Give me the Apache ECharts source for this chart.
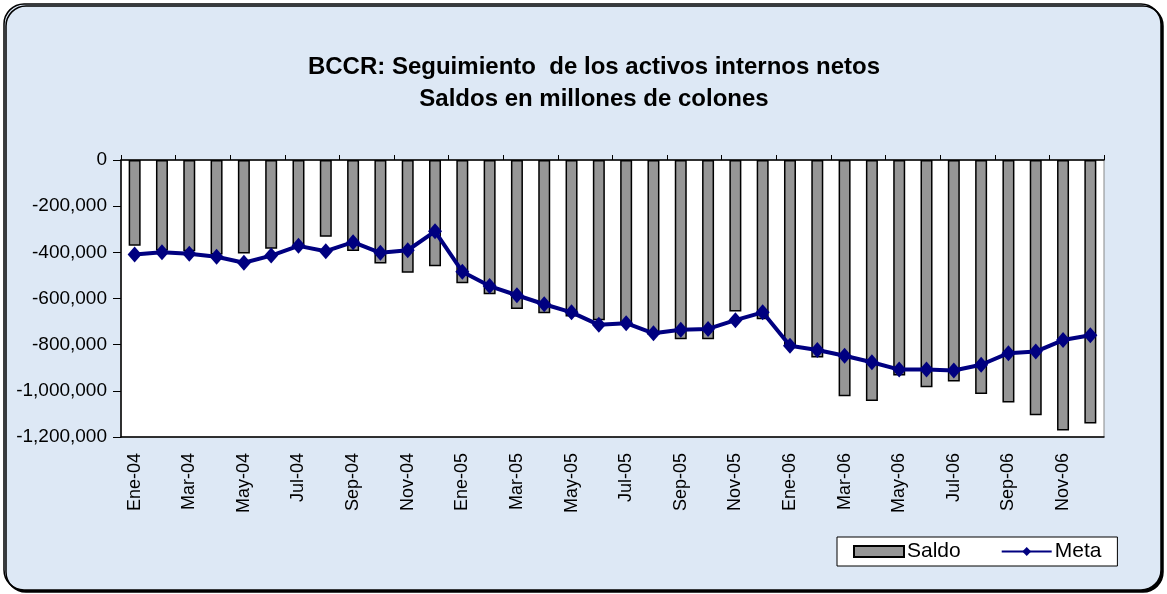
<!DOCTYPE html>
<html>
<head>
<meta charset="utf-8">
<title>BCCR: activos internos netos</title>
<script src="https://cdn.jsdelivr.net/npm/echarts@6/dist/echarts.min.js"></script>
<style>
    html, body { margin: 0; padding: 0; width: 100%; height: 100%; background: #fff; }
    #chart { width: 1167px; height: 594px; }
</style>
</head>
<body>
<div id="chart"></div>
<script>
// meses
var meses = ['Ene-04','Feb-04','Mar-04','Abr-04','May-04','Jun-04','Jul-04','Ago-04','Sep-04','Oct-04','Nov-04','Dic-04',
             'Ene-05','Feb-05','Mar-05','Abr-05','May-05','Jun-05','Jul-05','Ago-05','Sep-05','Oct-05','Nov-05','Dic-05',
             'Ene-06','Feb-06','Mar-06','Abr-06','May-06','Jun-06','Jul-06','Ago-06','Sep-06','Oct-06','Nov-06','Dic-06'];
// saldo (barras)
var saldo = [-371000,-392000,-395000,-409000,-405000,-384000,-372000,-333000,-394000,-448000,-488000,-460000,
             -534000,-582000,-646000,-664000,-678000,-694000,-704000,-757000,-776000,-776000,-656000,-690000,
             -805000,-856000,-1024000,-1044000,-934000,-984000,-960000,-1014000,-1050000,-1106000,-1172000,-1142000];
// meta (linea)
var meta = [-409000,-400000,-406000,-419000,-445000,-414000,-372000,-395000,-356000,-402000,-391000,-309000,
            -484000,-546000,-586000,-625000,-660000,-714000,-707000,-751000,-735000,-732000,-694000,-660000,
            -805000,-823000,-848000,-876000,-908000,-908000,-912000,-887000,-837000,-830000,-780000,-759000];
var yMin = -1200000, yMax = 0, yStep = 200000;

var chart = echarts.init(document.getElementById('chart'));
var FONT = 'Liberation Sans, Arial, sans-serif';

var option = {
    animation: false,
    backgroundColor: '#fff',
    textStyle: { fontFamily: FONT, color: '#000' },
    graphic: [{
        type: 'rect',
        z: -10,
        shape: { x: 4, y: 4, width: 1157, height: 586, r: 20 },
        style: {
            fill: '#dde8f5', stroke: '#000', lineWidth: 1.5,
            shadowColor: '#000', shadowOffsetX: 2, shadowOffsetY: 2, shadowBlur: 0
        }
    }],
    title: {
        text: 'BCCR: Seguimiento  de los activos internos netos\nSaldos en millones de colones',
        left: 589,
        textAlign: 'center',
        top: 46,
        textStyle: { fontFamily: FONT, fontSize: 24, fontWeight: 'bold', lineHeight: 32, color: '#000' }
    },
    legend: {
        left: 837, top: 537,
        padding: [4, 16, 4, 16],
        backgroundColor: '#fff',
        borderColor: '#000', borderWidth: 1,
        itemWidth: 50, itemHeight: 11, itemGap: 40,
        textStyle: { fontFamily: FONT, fontSize: 21, color: '#000', padding: [0, 0, 0, -2] },
        data: [{ name: 'Saldo', icon: 'rect' }, { name: 'Meta' }]
    },
    grid: {
        left: 121, top: 160, width: 983, height: 277,
        show: true, backgroundColor: '#fff', borderColor: '#888', borderWidth: 1
    },
    xAxis: [{
        type: 'category',
        data: meses,
        position: 'bottom',
        axisLine: { onZero: false, lineStyle: { color: '#000', width: 1.5 } },
        axisTick: { show: false },
        axisLabel: { interval: 1, rotate: 90, margin: 16, fontSize: 18, color: '#000', fontFamily: FONT }
    }, {
        type: 'category',
        data: meses,
        position: 'top',
        axisLine: { onZero: false, lineStyle: { color: '#000', width: 1.5 } },
        axisTick: { show: true, length: 5, lineStyle: { color: '#000' } },
        axisLabel: { show: false }
    }],
    yAxis: {
        type: 'value',
        min: yMin, max: yMax, interval: yStep,
        axisLine: { show: true, lineStyle: { color: '#000', width: 1.5 } },
        axisTick: { show: true, length: 8, lineStyle: { color: '#000' } },
        splitLine: { show: false },
        axisLabel: {
            margin: 14, fontSize: 19, color: '#000', fontFamily: FONT,
            formatter: function (v) { return v.toLocaleString('en-US'); }
        }
    },
    series: [{
        name: 'Saldo',
        type: 'bar',
        xAxisIndex: 0,
        barWidth: 12,
        data: saldo,
        itemStyle: { color: '#969696', borderColor: '#000', borderWidth: 1.5 }
    }, {
        name: 'Meta',
        type: 'line',
        xAxisIndex: 0,
        data: meta,
        symbol: 'diamond',
        symbolSize: [14, 16],
        lineStyle: { color: '#000080', width: 4 },
        itemStyle: { color: '#000080' }
    }]
};

chart.setOption(option);
</script>
</body>
</html>
